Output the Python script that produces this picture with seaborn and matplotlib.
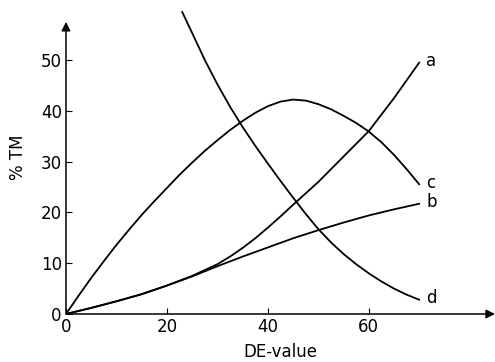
import pandas as pd
import matplotlib
matplotlib.use('Agg')
import matplotlib.pyplot as plt
import seaborn as sns

# values (DE-value vs % TM)
de_a = [0, 5, 10, 15, 20, 25, 30, 32.5, 35, 37.5, 40, 42.5, 45, 50, 55, 60, 65, 70]
curve_a = [0, 1.2, 2.5, 3.9, 5.6, 7.5, 9.8, 11.3, 13.0, 14.9, 17.0, 19.2, 21.5, 26.0, 31.0, 36.0, 42.5, 49.5]
de_b = [0, 5, 10, 15, 20, 25, 30, 35, 40, 45, 50, 55, 60, 65, 70]
curve_b = [0, 1.2, 2.5, 3.9, 5.6, 7.4, 9.4, 11.3, 13.1, 14.9, 16.5, 18.0, 19.4, 20.6, 21.7]
de_c = [0, 2.5, 5, 7.5, 10, 12.5, 15, 17.5, 20, 22.5, 25, 27.5, 30, 32.5, 35, 37.5,
        40, 42.5, 45, 47.5, 50, 52.5, 55, 57.5, 60, 62.5, 65, 67.5, 70]
curve_c = [0, 3.6, 7.1, 10.4, 13.6, 16.6, 19.5, 22.2, 24.8, 27.4, 29.8, 32.1, 34.2, 36.2, 38.0, 39.6,
           40.9, 41.8, 42.2, 42.0, 41.3, 40.3, 39.0, 37.6, 35.9, 33.8, 31.3, 28.5, 25.5]
de_d = [23, 25, 27.5, 30, 32.5, 35, 37.5, 40, 42.5, 45, 47.5, 50, 52.5, 55, 57.5, 60, 62.5, 65, 67.5, 70]
curve_d = [59.5, 55.3, 50.0, 45.2, 40.8, 36.8, 33.1, 29.6, 26.2, 22.9, 19.7, 16.7, 14.1, 11.8, 9.8,
           8.0, 6.4, 5.0, 3.8, 2.8]

x_ticks = [0, 20, 40, 60]
y_ticks = [0, 10, 20, 30, 40, 50]

sns.set_style('white')
plt.rcParams['font.family'] = ['DejaVu Sans']
plt.rcParams.update({'text.color': 'black', 'axes.labelcolor': 'black',
                     'xtick.color': 'black', 'ytick.color': 'black'})

fig = plt.figure(figsize=(4.95, 3.62), dpi=100)
ax = fig.add_axes([0.1333, 0.1326, 0.8667, 0.8674])

series = [('a', de_a, curve_a), ('b', de_b, curve_b), ('c', de_c, curve_c), ('d', de_d, curve_d)]
for name, xs, ys in series:
    df = pd.DataFrame({'x': xs, 'y': ys})
    sns.lineplot(data=df, x='x', y='y', color='black', lw=1.3, ax=ax, sort=False)
    ax.annotate(name, (xs[-1], ys[-1]), xytext=(5, 1), textcoords='offset points',
                ha='left', va='center', fontsize=12)

ax.set_xlim(0, 85)
ax.set_ylim(0, 61.8)
for s in ax.spines.values():
    s.set_visible(False)

# arrow axes
arrow = dict(arrowstyle='-|>', lw=1.1, color='black', mutation_scale=13,
             shrinkA=0, shrinkB=0)
ax.annotate('', xy=(85, 0), xytext=(0, 0), arrowprops=arrow, annotation_clip=False)
ax.annotate('', xy=(0, 57.5), xytext=(0, 0), arrowprops=arrow, annotation_clip=False)

ax.set_xticks(x_ticks)
ax.set_yticks(y_ticks)
ax.tick_params(direction='in', length=4, width=0.8, labelsize=12, pad=3,
               left=True, bottom=True)
ax.set_xlabel('DE-value', fontsize=12, labelpad=5)
ax.set_ylabel('% TM', fontsize=12, labelpad=10)

fig.savefig('out.png', dpi=100)
